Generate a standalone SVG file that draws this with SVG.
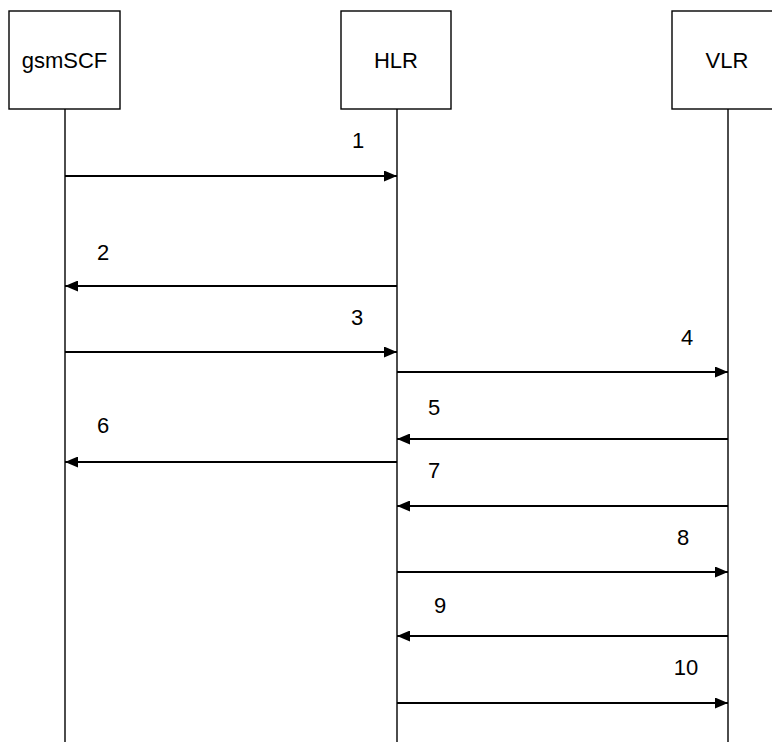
<svg xmlns="http://www.w3.org/2000/svg" width="772" height="742" viewBox="0 0 772 742">
<defs>
<style>
.box{fill:#fff;stroke:#000;stroke-width:1.4}
.life{stroke:#000;stroke-width:1.4;fill:none}
.msg{stroke:#000;stroke-width:2.2;fill:none;marker-end:url(#ah)}
text{font-family:"Liberation Sans",Arial,sans-serif;font-size:22px;fill:#000}
.c{text-anchor:middle}
</style>
<marker id="ah" markerUnits="userSpaceOnUse" markerWidth="13" markerHeight="11" viewBox="0 0 13 11" refX="13" refY="5.5" orient="auto">
<path d="M0,0 L13,5.5 L0,11 Z" fill="#000"/>
</marker>
</defs>
<rect width="772" height="742" fill="#fff"/>
<g id="gsmSCF">
<line class="life" x1="65" y1="109" x2="65" y2="742"/>
<rect class="box" x="9" y="11" width="111" height="98"/>
<text class="c" x="64.5" y="68">gsmSCF</text>
</g>
<g id="HLR">
<line class="life" x1="397" y1="109" x2="397" y2="742"/>
<rect class="box" x="341" y="11" width="110" height="98"/>
<text class="c" x="396" y="68">HLR</text>
</g>
<g id="VLR">
<line class="life" x1="728" y1="109" x2="728" y2="742"/>
<rect class="box" x="672" y="11" width="112" height="98"/>
<text class="c" x="727" y="68">VLR</text>
</g>
<g id="connectors">
<line class="msg" x1="65" y1="176" x2="397" y2="176"/>
<line class="msg" x1="397" y1="286" x2="65" y2="286"/>
<line class="msg" x1="65" y1="352" x2="397" y2="352"/>
<line class="msg" x1="397" y1="372" x2="728" y2="372"/>
<line class="msg" x1="728" y1="439" x2="397" y2="439"/>
<line class="msg" x1="397" y1="462" x2="65" y2="462"/>
<line class="msg" x1="728" y1="506" x2="397" y2="506"/>
<line class="msg" x1="397" y1="572" x2="728" y2="572"/>
<line class="msg" x1="728" y1="636" x2="397" y2="636"/>
<line class="msg" x1="397" y1="703" x2="728" y2="703"/>
</g>
<g id="labels">
<text class="c" x="358" y="148">1</text>
<text class="c" x="103" y="260">2</text>
<text class="c" x="357" y="325">3</text>
<text class="c" x="687" y="345">4</text>
<text class="c" x="434" y="415">5</text>
<text class="c" x="103" y="433">6</text>
<text class="c" x="434" y="478">7</text>
<text class="c" x="683" y="545">8</text>
<text class="c" x="440" y="613">9</text>
<text class="c" x="686" y="675">10</text>
</g>
</svg>
